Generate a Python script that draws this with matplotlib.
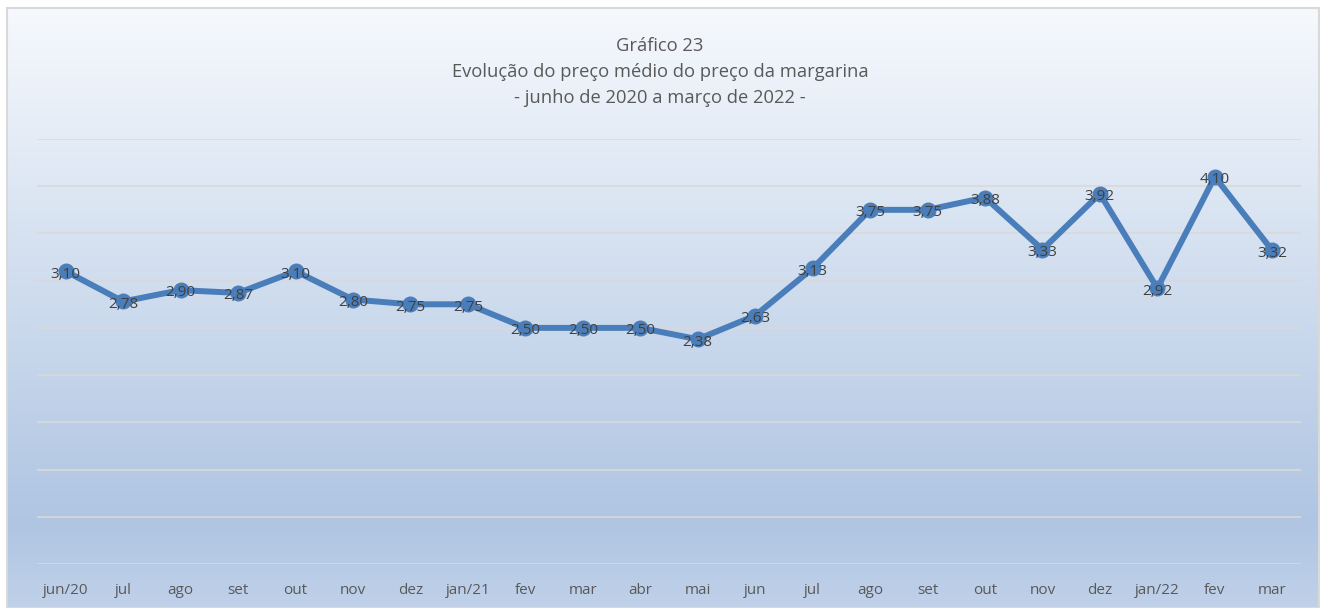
import matplotlib
matplotlib.use('Agg')
import matplotlib.pyplot as plt
import numpy as np
from matplotlib.colors import LinearSegmentedColormap
from matplotlib.patches import Rectangle

# dados
meses = ["jun/20", "jul", "ago", "set", "out", "nov", "dez", "jan/21", "fev", "mar",
         "abr", "mai", "jun", "jul", "ago", "set", "out", "nov", "dez", "jan/22",
         "fev", "mar"]
precos = [3.10, 2.78, 2.90, 2.87, 3.10, 2.80, 2.75, 2.75, 2.50, 2.50,
          2.50, 2.38, 2.63, 3.13, 3.75, 3.75, 3.88, 3.33, 3.92, 2.92,
          4.10, 3.32]

titulo = "Gráfico 23\nEvolução do preço médio do preço da margarina\n- junho de 2020 a março de 2022 -"

plt.rcParams['font.family'] = ['Open Sans', 'DejaVu Sans']

fig = plt.figure(figsize=(13.2, 6.08), dpi=100)

# fundo em gradiente (estilo Excel)
bg = fig.add_axes([7 / 1320, 0, 1 - 8 / 1320, 1 - 8 / 608], zorder=-10)
cmap = LinearSegmentedColormap.from_list('grad', [
    (0.0, (246 / 255, 249 / 255, 253 / 255)),
    (0.86, (175 / 255, 197 / 255, 226 / 255)),
    (1.0, (192 / 255, 209 / 255, 233 / 255)),
])
grad = np.linspace(0, 1, 256).reshape(-1, 1)
bg.imshow(grad, aspect='auto', cmap=cmap, extent=[0, 1, 0, 1])
bg.add_patch(Rectangle((0, 0), 1, 1, transform=bg.transAxes, fill=False,
                       edgecolor='#d9d9d9', linewidth=1.5, clip_on=False))
bg.set_axis_off()

# área do gráfico
left, right = 37 / 1320, 1301 / 1320
bottom, top = 1 - 564 / 608, 1 - 139 / 608
ax = fig.add_axes([left, bottom, right - left, top - bottom])
ax.patch.set_alpha(0)

x = np.arange(len(meses))
ax.plot(x, precos, color='#4a7ebb', linewidth=4.3, marker='o', markersize=10.5,
        solid_capstyle='round', solid_joinstyle='round', zorder=3)

for xi, v in zip(x, precos):
    ax.text(xi, v - 0.03, f"{v:.2f}".replace('.', ','), ha='center', va='center',
            fontsize=11, color='#404040', zorder=4)

ax.set_xlim(-0.5, len(meses) - 0.5)
ax.set_ylim(0, 4.5)
ax.set_yticks(np.arange(0, 4.51, 0.5))
ax.yaxis.grid(True, color='#d9d9d9', linewidth=1.2)
ax.set_axisbelow(True)
ax.tick_params(axis='y', left=False, labelleft=False)
ax.set_xticks(x)
ax.set_xticklabels(meses, fontsize=11, color='#595959')
ax.tick_params(axis='x', length=0, pad=14)
for s in ax.spines.values():
    s.set_visible(False)

fig.text(0.5, 1 - 72 / 608, titulo, ha='center', va='center', fontsize=13.2,
         color='#595959', linespacing=1.6)

fig.savefig('out.png', dpi=100)
